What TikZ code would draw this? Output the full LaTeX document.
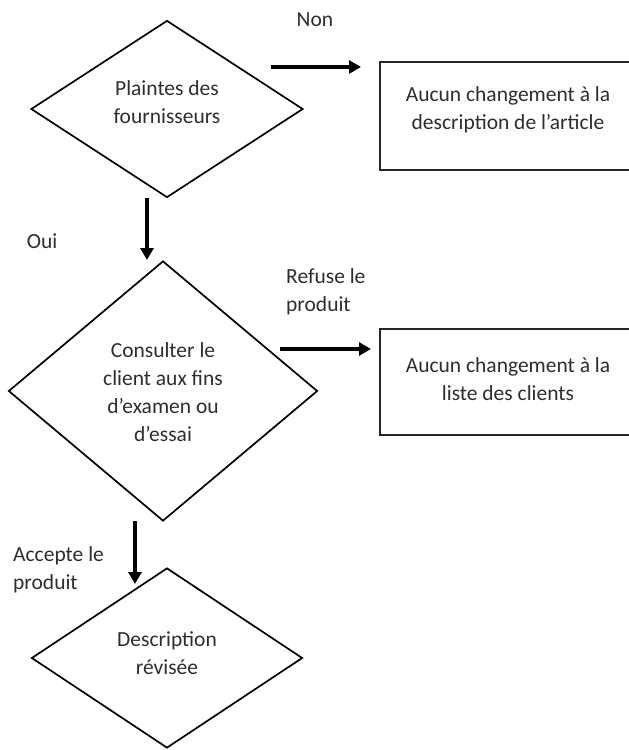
\documentclass[tikz,border=0pt]{standalone}
\usepackage{fontspec}
\setmainfont{Carlito}
\usetikzlibrary{shapes.geometric,arrows.meta}
\begin{document}
\begin{tikzpicture}[x=1pt,y=-1pt,
  dia/.style={draw, diamond, line width=1.7pt, inner sep=0pt},
  boxnode/.style={draw, rectangle, line width=1.4pt, draw=black!85, inner sep=0pt},
  txt/.style={font=\fontsize{21.5}{28}\selectfont, align=center, text=black!82, inner sep=0pt},
  arr/.style={line width=4pt, -{Triangle[length=12pt,width=13pt]}}
]
\useasboundingbox (0,0) rectangle (629,750);
% shapes
\node[dia, minimum width=272pt, minimum height=177pt] (d1) at (167,109) {};
\node[txt] (t1) at (167,102) {Plaintes des\\fournisseurs};
\node[boxnode, minimum width=252pt, minimum height=108pt] (b1) at (506,116) {};
\node[txt] (t2) at (508,110) {Aucun changement à la\\description de l’article};
\node[dia, minimum width=309pt, minimum height=260pt] (d2) at (163,391) {};
\node[txt] (t3) at (163,392) {Consulter le\\client aux fins\\d’examen ou\\d’essai};
\node[boxnode, minimum width=252pt, minimum height=106pt] (b2) at (506,382) {};
\node[txt] (t4) at (508,379) {Aucun changement à la\\liste des clients};
\node[dia, minimum width=271pt, minimum height=180pt] (d3) at (167,658) {};
\node[txt] (t5) at (167,653) {Description\\révisée};
% labels
\node[txt] (non) at (315,20) {Non};
\node[txt] (oui) at (42,241) {Oui};
\node[txt, align=left, anchor=west] (ref) at (286,292) {Refuse le\\produit};
\node[txt, align=left, anchor=west] (acc) at (13,570) {Accepte le\\produit};
% arrows
\coordinate (a1s) at (271,67); \coordinate (a1e) at (361,67);
\coordinate (a2s) at (147,198); \coordinate (a2e) at (147,260);
\coordinate (a3s) at (280,349); \coordinate (a3e) at (371,349);
\coordinate (a4s) at (135,521); \coordinate (a4e) at (135,584);
\draw[arr] (a1s) -- (a1e);
\draw[arr] (a2s) -- (a2e);
\draw[arr] (a3s) -- (a3e);
\draw[arr] (a4s) -- (a4e);
\end{tikzpicture}
\end{document}
